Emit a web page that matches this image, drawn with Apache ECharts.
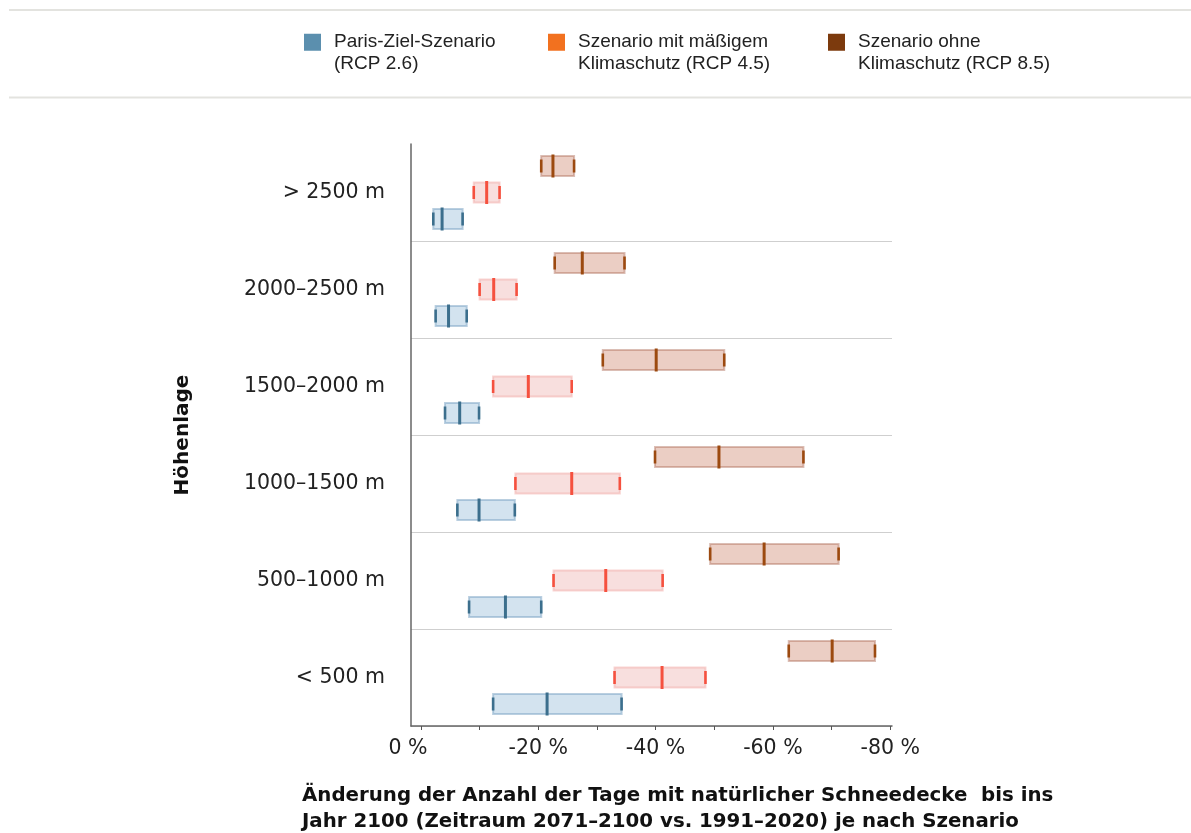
<!DOCTYPE html>
<html>
<head>
<meta charset="utf-8">
<script src="https://cdn.jsdelivr.net/npm/echarts@6/dist/echarts.min.js"></script>
<style>
html,body{margin:0;padding:0;background:#fff;}
#chart{width:1191px;height:833px;}
</style>
</head>
<body>
<div id="chart"></div>
<script>
// ---- Data (change in %, negative = decrease) ----
const categories = ['> 2500 m', '2000–2500 m', '1500–2000 m', '1000–1500 m', '500–1000 m', '< 500 m'];
const seriesNames = ['Paris-Ziel-Szenario\n(RCP 2.6)', 'Szenario mit mäßigem\nKlimaschutz (RCP 4.5)', 'Szenario ohne\nKlimaschutz (RCP 8.5)'];

const rcp26Start  = [-2.1, -2.5, -4.1, -6.2, -8.2, -12.3];
const rcp26Median = [-3.6, -4.7, -6.6, -9.9, -14.4, -21.5];
const rcp26End    = [-7.1, -7.8, -9.9, -16.0, -20.5, -34.2];

const rcp45Start  = [-9.0, -10.0, -12.3, -16.1, -22.6, -33.0];
const rcp45Median = [-11.2, -12.4, -18.3, -25.7, -31.5, -41.1];
const rcp45End    = [-13.4, -16.3, -25.7, -33.9, -41.2, -48.5];

const rcp85Start  = [-20.5, -22.8, -31.0, -39.9, -49.3, -62.7];
const rcp85Median = [-22.5, -27.5, -40.1, -50.8, -58.5, -70.1];
const rcp85End    = [-26.1, -34.7, -51.7, -65.2, -71.2, -77.4];

const xTickValues  = [0, -10, -20, -30, -40, -50, -60, -70, -80];
const xLabelValues = [0, -20, -40, -60, -80];

// ---- Styles ----
const styles = [
  {legend: '#5b8fae', fill: '#d3e3ef', stroke: 'rgba(130,168,198,0.55)', mark: '#3c6f8d', offset: 26.5},
  {legend: '#f2711f', fill: '#f8dfde', stroke: 'rgba(240,160,155,0.45)', mark: '#f5513f', offset: 0},
  {legend: '#7c3a0d', fill: '#ebcec4', stroke: 'rgba(175,110,90,0.45)', mark: '#9c4a10', offset: -26.5}
];

function buildData(s, m, e) {
  return categories.map((c, i) => [i, s[i], m[i], e[i]]);
}
const allData = [
  buildData(rcp26Start, rcp26Median, rcp26End),
  buildData(rcp45Start, rcp45Median, rcp45End),
  buildData(rcp85Start, rcp85Median, rcp85End)
];

function makeRender(st) {
  return function (params, api) {
    const cat = api.value(0);
    const p1 = api.coord([api.value(1), cat]);
    const pm = api.coord([api.value(2), cat]);
    const p2 = api.coord([api.value(3), cat]);
    const yc = p1[1] + st.offset;
    const boxH = 20;
    const x0 = Math.min(p1[0], p2[0]);
    const w = Math.abs(p2[0] - p1[0]);
    return {
      type: 'group',
      children: [
        {type: 'rect', shape: {x: x0, y: yc - boxH / 2, width: w, height: boxH},
         style: {fill: st.fill, stroke: st.stroke, lineWidth: 2}},
        {type: 'line', shape: {x1: p1[0], y1: yc - 6.5, x2: p1[0], y2: yc + 6.5},
         style: {stroke: st.mark, lineWidth: 2.6}},
        {type: 'line', shape: {x1: p2[0], y1: yc - 6.5, x2: p2[0], y2: yc + 6.5},
         style: {stroke: st.mark, lineWidth: 2.6}},
        {type: 'line', shape: {x1: pm[0], y1: yc - 11.5, x2: pm[0], y2: yc + 11.5},
         style: {stroke: st.mark, lineWidth: 3}}
      ]
    };
  };
}

const legendLefts = [304, 548, 828];
const legends = seriesNames.map((n, i) => ({
  data: [{name: n, icon: 'rect', itemStyle: {color: styles[i].legend}}],
  left: legendLefts[i],
  top: 10,
  padding: 0,
  itemWidth: 17,
  itemHeight: 17,
  selectedMode: false,
  formatter: function (name) { return '\n' + name; },
  textStyle: {fontFamily: 'Liberation Sans', fontSize: 19, color: '#222', lineHeight: 21.5, padding: [0, 0, 0, 8]}
}));

const chart = echarts.init(document.getElementById('chart'), null, {renderer: 'canvas'});
chart.setOption({
  backgroundColor: '#fff',
  animation: false,
  legend: legends,
  title: {
    text: 'Änderung der Anzahl der Tage mit natürlicher Schneedecke  bis ins\nJahr 2100 (Zeitraum 2071–2100 vs. 1991–2020) je nach Szenario',
    left: 302, top: 783, padding: 0,
    textStyle: {fontFamily: 'DejaVu Sans', fontWeight: 'bold', fontSize: 19.8, lineHeight: 26, color: '#111'}
  },
  graphic: [
    {type: 'line', shape: {x1: 9, y1: 10, x2: 1191, y2: 10}, style: {stroke: '#e3e3df', lineWidth: 2}, silent: true},
    {type: 'line', shape: {x1: 9, y1: 97.5, x2: 1191, y2: 97.5}, style: {stroke: '#e3e3df', lineWidth: 2}, silent: true}
  ],
  grid: {left: 411, right: 299, top: 144, bottom: 107, containLabel: false},
  xAxis: {
    type: 'value',
    inverse: true,
    min: -80.3,
    max: 1.7,
    axisLine: {show: true, onZero: false, lineStyle: {color: '#666', width: 1.5}},
    axisTick: {show: true, customValues: xTickValues, length: 4, lineStyle: {color: '#555', width: 1}},
    splitLine: {show: false},
    axisLabel: {
      customValues: xLabelValues,
      margin: 12,
      fontFamily: 'DejaVu Sans', fontSize: 20.5, color: '#222',
      formatter: function (v) { return v === 0 ? '{z|0 %}' : v + ' %'; },
      rich: {z: {fontFamily: 'DejaVu Sans', fontSize: 20.5, color: '#222', padding: [0, 26, 0, 0]}}
    }
  },
  yAxis: {
    type: 'category',
    inverse: true,
    data: categories,
    name: 'Höhenlage',
    nameLocation: 'middle',
    nameRotate: 90,
    nameGap: 218,
    nameTextStyle: {fontFamily: 'DejaVu Sans', fontWeight: 'bold', fontSize: 20, color: '#111'},
    axisLine: {show: true, onZero: false, lineStyle: {color: '#666', width: 1.5}},
    axisTick: {show: false},
    axisLabel: {margin: 26, fontFamily: 'DejaVu Sans', fontSize: 20.5, color: '#222'},
    splitLine: {show: true, showMinLine: false, lineStyle: {color: '#cfcfcf', width: 1.2}}
  },
  series: seriesNames.map((n, i) => ({
    type: 'custom',
    name: n,
    renderItem: makeRender(styles[i]),
    encode: {x: [1, 2, 3], y: 0},
    itemStyle: {color: styles[i].legend},
    data: allData[i],
    z: 3 + i
  }))
});
</script>
</body>
</html>
